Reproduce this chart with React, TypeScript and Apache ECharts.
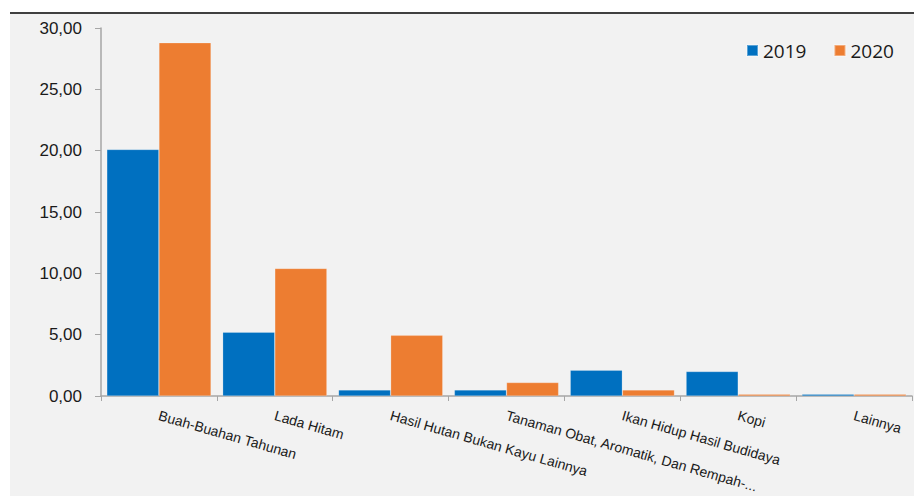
import React, { useEffect, useRef } from "react";
import * as echarts from "echarts";

const categories = [
  "Buah-Buahan Tahunan",
  "Lada Hitam",
  "Hasil Hutan Bukan Kayu Lainnya",
  "Tanaman Obat, Aromatik, Dan Rempah-...",
  "Ikan Hidup Hasil Budidaya",
  "Kopi",
  "Lainnya",
];
const values2019 = [20.1, 5.2, 0.5, 0.5, 2.1, 2.0, 0.15];
const values2020 = [28.8, 10.4, 4.95, 1.1, 0.5, 0.15, 0.15];
const seriesNames = ["2019", "2020"];
const colors = ["#0070c0", "#ed7d31"];

export default function App() {
  const ref = useRef<HTMLDivElement>(null);
  useEffect(() => {
    const chart = echarts.init(ref.current!, undefined, { renderer: "svg" });
    chart.setOption({
      animation: false,
      backgroundColor: "#ffffff",
      graphic: [
        {
          type: "rect",
          z: -10,
          shape: { x: 10, y: 14, width: 904, height: 482 },
          style: { fill: "#f2f2f2" },
          silent: true,
        },
        {
          type: "line",
          z: -9,
          shape: { x1: 10, y1: 13, x2: 914, y2: 13 },
          style: { stroke: "#000000", lineWidth: 1.5 },
          silent: true,
        },
      ],
      legend: {
        data: seriesNames,
        left: 741,
        top: 36,
        itemWidth: 11,
        itemHeight: 11,
        itemGap: 27,
        icon: "rect",
        textStyle: { fontFamily: "Open Sans", fontSize: 19, color: "#1a1a1a" },
      },
      grid: { left: 101, right: 2, top: 28, bottom: 100 },
      xAxis: {
        type: "category",
        data: categories,
        axisLine: { lineStyle: { color: "#a6a6a6", width: 1.5 } },
        axisTick: { show: true, length: 5, lineStyle: { color: "#a6a6a6" } },
        axisLabel: {
          interval: 0,
          rotate: -16,
          margin: 19,
          fontFamily: "Liberation Sans",
          fontSize: 14,
          color: "#1a1a1a",
        },
      },
      yAxis: {
        type: "value",
        min: 0,
        max: 30,
        interval: 5,
        splitLine: { show: false },
        axisLine: { show: true, lineStyle: { color: "#a6a6a6", width: 1.5 } },
        axisTick: { show: true, length: 6, lineStyle: { color: "#a6a6a6" } },
        axisLabel: {
          margin: 19,
          fontFamily: "Liberation Sans",
          fontSize: 17,
          color: "#1a1a1a",
          formatter: (v: number) => v.toFixed(2).replace(".", ","),
        },
      },
      series: [values2019, values2020].map((vals, i) => ({
        name: seriesNames[i],
        type: "bar",
        data: vals,
        barGap: "0%",
        barCategoryGap: "10%",
        itemStyle: {
          color: colors[i],
          borderColor: "rgba(255,255,255,0.35)",
          borderWidth: 0.6,
        },
      })),
    });
    return () => chart.dispose();
  }, []);
  return (
    <div
      ref={ref}
      style={{ position: "absolute", left: 0, top: 0, width: 914, height: 496 }}
    />
  );
}
